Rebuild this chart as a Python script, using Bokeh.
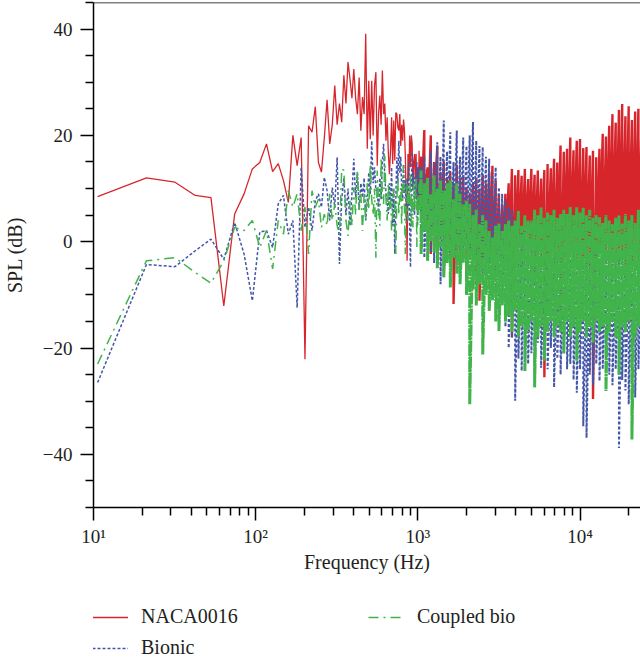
from bokeh.plotting import figure
from bokeh.layouts import column
from bokeh.models import (Range1d, FixedTicker, CustomJSTickFormatter, Legend,
                          LegendItem, Span)
from bokeh.embed import file_html
from bokeh.resources import INLINE

# ---------------------------------------------------------------------------
# Spectrum data
# Low-frequency part: one SPL value per FFT bin (bin width BIN_HZ).
# ---------------------------------------------------------------------------
BIN_HZ = 10.6

naca_low = [
    8.5, 12.0, 11.2, 8.7, 8.3, -12.1, 5.2, 9.0, 13.7, 14.9,
    18.4, 13.2, 14.7, 11.5, 7.4, 20.0, 14.3, 19.6, -22.1, 21.8,
    20.6, 25.4, 14.9, 13.1, 19.5, 26.7, 18.4, 22.0, 29.4, 22.0,
    26.0, 22.5, 31.3, 26.0, 33.8, 30.6, 27.0, 32.5, 27.0, 24.0,
    30.9, 20.9, 27.2, 24.0, 39.1, 17.5, 30.3, 19.3, 30.3, 20.0,
    29.4, 31.9, 14.3, 24.0, 27.5, 22.0, 32.2, 24.0, 26.0, 19.0,
    23.4, 17.0, 12.7, 17.1, 23.4, 14.6, 22.8, 15.3, 24.3, 24.0,
    21.5, 20.9, 24.0, 18.0, 22.0, 19.0, 23.0, 20.9, 16.0, 7.7,
    -3.6, 16.5, 12.0, 20.0, 14.0, 20.0, 18.4, 10.2, 15.0, 16.5,
    12.0, 16.5, 8.0, 14.0, 5.2, 17.1, 8.3,
]

bionic_low = [
    -26.5, -4.3, -4.7, -1.7, 0.5, -3.3, 3.6, -2.3, -11.1, 1.8,
    2.1, -1.1, 7.1, 8.7, 1.4, 4.0, -12.4, 14.0, 2.7, 6.5,
    2.1, 7.7, 9.0, 6.5, 12.1, 9.6, 4.0, 10.2, 6.5, 15.9,
    -4.2, 8.0, 12.0, 5.0, 10.0, 3.0, 9.0, 15.6, 8.3, 13.0,
    6.0, 11.0, 8.3, 12.0, 4.0, 7.7, 13.0, 9.0, 19.0, 11.0,
    14.0, 9.6, 10.2, 5.0, 12.0, 8.0, 15.0, 18.4, 12.0, 9.0,
    7.7, 5.2, 11.0, 6.2, 14.0, 3.0, 10.0, -2.3, 8.0, 15.9,
    11.0, 19.0, 13.0, 16.0, 10.0, 7.7, 14.6, 9.0, 11.5, 4.0,
    12.0, 6.0, 15.0, 2.0, -4.8, 10.0, 16.8, 9.6, 13.0, 5.0,
    12.1, 8.0, 15.0, 3.0, 11.0, 14.0, 6.0,
]

coupled_low = [
    -23.0, -3.6, -3.0, -5.8, -7.8, -3.6, 2.7, 2.1, 4.0, -1.1,
    2.1, -5.1, 4.0, 1.4, 9.6, 6.5, 9.0, 2.1, 6.5, -2.3,
    9.6, 6.5, 8.0, 2.7, 5.2, 3.0, 9.0, 4.0, 7.1, 3.0,
    1.4, 13.7, 13.4, 4.0, 1.1, 7.7, 3.0, 10.2, 5.0, 13.4,
    6.0, 9.0, 2.0, 9.0, 4.0, 11.0, 6.0, 14.6, 8.0, 5.0,
    10.0, -3.0, 13.4, 7.0, 3.0, 15.9, 9.0, 7.1, 16.2, 8.0,
    4.0, 11.0, 6.0, 9.0, 2.0, 5.2, 10.0, 7.0, -2.3, 8.0,
    12.0, 5.0, 9.0, 10.2, 3.0, 12.0, 14.3, 6.0, -2.3, 8.0,
    11.0, 4.0, 10.2, 7.0, 13.0, 3.0, 9.0, 2.7, 11.0, 6.0,
    7.7, 12.0, -1.0, 9.0, 4.0, 10.9, 6.0,
]

# High-frequency part: peak (hi) and trough (lo) SPL around each frequency
band_freq = [
    1047, 1096, 1148, 1202, 1259, 1318, 1380, 1445, 1514, 1585,
    1660, 1738, 1820, 1905, 1995, 2089, 2188, 2291, 2399, 2512,
    2630, 2754, 2884, 3020, 3162, 3311, 3467, 3631, 3802, 3981,
    4169, 4365, 4571, 4786, 5012, 5248, 5495, 5754, 6026, 6310,
    6607, 6918, 7244, 7586, 7943, 8318, 8710, 9120, 9550, 10000,
    10471, 10965, 11482, 12023, 12589, 13183, 13804, 14454, 15136, 15849,
    16596, 17378, 18197, 19055, 19953, 20893, 21878, 22909, 23988,
]

naca_hi = [
    16.0, 21.0, 14.0, 20.0, 15.0, 18.0, 13.0, 15.0, 12.0, 13.0,
    11.0, 14.5, 12.0, 12.5, 10.0, 9.0, 11.0, 12.0, 10.0, 12.5,
    11.0, 13.0, 14.3, 11.5, 9.0, 7.0, 9.0, 11.0, 13.7, 12.5,
    13.5, 12.4, 13.7, 11.8, 13.7, 12.6, 13.4, 11.9, 13.5, 14.6,
    13.8, 15.6, 14.9, 18.1, 16.9, 17.5, 19.6, 17.2, 19.0, 19.3,
    17.6, 17.8, 16.2, 17.1, 15.9, 17.5, 20.3, 19.8, 21.8, 24.0,
    22.4, 24.8, 25.9, 23.6, 25.5, 22.9, 24.5, 25.0, 23.8,
]
naca_lo = [
    5.2, 8.3, 2.7, -2.3, 6.0, -3.0, 0.8, -6.0, -2.0, -4.0,
    -11.7, -3.0, -4.8, -1.0, -7.3, -2.0, -5.0, -8.0, -11.1, -3.0,
    -6.0, -4.2, -4.8, -7.3, -3.0, -5.0, -2.0, -6.0, -18.0, -4.0,
    -1.0, -5.0, 0.0, -3.0, -1.0, -6.0, -2.0, -4.0, -25.5, -5.0,
    -3.0, -7.0, -4.0, -16.0, -3.0, -6.0, -2.0, -5.0, -4.0, -7.0,
    -3.0, -5.0, -6.0, -29.6, -4.0, -2.0, -6.0, -3.0, -5.0, -2.0,
    -6.0, -4.0, -3.0, -7.0, -2.0, -5.0, -4.0, -6.0, -3.0,
]

bionic_hi = [
    14.0, 16.0, 12.0, 17.0, 15.0, 18.7, 16.0, 22.8, 17.0, 20.6,
    15.0, 20.9, 16.0, 19.6, 18.0, 20.0, 22.5, 19.0, 18.0, 17.8,
    16.0, 15.6, 13.0, 14.0, 10.2, 9.0, 8.0, 6.5, 6.0, 4.0,
    3.0, 2.1, 1.0, 0.5, -0.5, 0.0, -1.1, -2.0, -3.0, -1.5,
    -4.0, -2.5, -3.0, -1.8, -4.0, -2.2, -3.5, -2.0, -4.5, -2.8,
    -3.0, -4.0, -2.5, -3.5, -2.0, -4.0, -3.0, -2.4, -3.8, -2.6,
    -4.0, -3.0, -2.2, -3.6, -2.8, -4.0, -3.0, -2.5, -3.5,
]
bionic_lo = [
    -1.0, -3.0, 0.0, -2.0, -4.0, 1.0, -8.0, -3.0, -1.1, -4.0,
    -2.0, -4.8, -1.0, -3.0, -1.1, -2.0, -4.0, -3.0, -4.8, -6.0,
    -5.0, -8.6, -7.0, -9.0, -14.3, -12.0, -16.0, -20.0, -18.0, -29.9,
    -22.0, -24.3, -20.0, -23.0, -21.0, -24.3, -19.0, -23.7, -21.0, -24.0,
    -20.0, -27.4, -22.0, -25.0, -21.0, -24.0, -23.0, -26.0, -28.4, -24.0,
    -34.7, -36.9, -25.0, -27.0, -23.0, -26.2, -24.0, -22.0, -25.0, -27.0,
    -24.0, -38.8, -26.0, -28.0, -30.6, -25.0, -29.3, -24.0, -26.0,
]

coupled_hi = [
    13.4, 11.0, 12.0, 9.0, 12.5, 10.0, 11.5, 9.6, 11.0, 11.5,
    8.0, 11.0, 9.0, 7.0, 7.7, 7.1, 5.0, 6.0, 3.3, 5.0,
    4.0, 2.0, 0.8, 3.0, 3.4, 2.0, 3.3, 4.0, 3.0, 4.0,
    5.8, 3.0, 5.0, 4.0, 4.0, 6.0, 5.0, 6.5, 4.5, 5.5,
    5.0, 6.0, 4.5, 5.2, 6.0, 5.2, 6.5, 5.0, 6.5, 5.5,
    6.5, 5.0, 6.0, 4.5, 5.0, 4.6, 3.5, 5.0, 4.0, 3.3,
    4.5, 5.0, 3.4, 5.2, 4.0, 5.0, 3.5, 6.0, 4.8,
]
coupled_lo = [
    -2.3, 2.0, -3.6, 0.0, -2.0, -5.0, -1.0, -6.7, -4.0, -8.6,
    -3.0, -6.0, -8.0, -4.0, -10.0, -30.6, -9.0, -12.0, -8.0, -21.2,
    -10.0, -13.0, -11.0, -15.0, -16.8, -12.0, -15.0, -14.0, -17.0, -13.0,
    -18.0, -16.0, -24.3, -17.0, -15.0, -27.4, -18.0, -16.0, -22.4, -17.0,
    -15.0, -18.0, -16.0, -17.0, -21.0, -15.0, -18.0, -16.0, -22.4, -17.0,
    -15.0, -18.0, -16.0, -19.0, -15.0, -17.0, -16.0, -28.1, -17.0, -15.0,
    -18.0, -25.0, -16.0, -17.0, -15.0, -37.2, -18.0, -16.0, -17.0,
]

series_names = ["NACA0016", "Bionic", "Coupled bio"]

FONT = "Liberation Serif"
TEXT = "#231f20"
RED = "#d7252c"
BLUE = "#4356a8"
GREEN = "#40b44a"

line_styles = [
    dict(line_color=RED),
    dict(line_color=BLUE, line_dash="3 2"),
    dict(line_color=GREEN, line_dash="10 5 2 5"),
]
low_widths = [1.3, 1.5, 1.5]
# the packed high-frequency traces are stroked heavier so they read as dense
band_styles = [
    dict(line_color=RED, line_width=2.4),
    dict(line_color=BLUE, line_width=2.0, line_dash="3 2"),
    dict(line_color=GREEN, line_width=3.0, line_dash="12 1 2 1"),
]


def low_trace(low):
    """One point per FFT bin."""
    return [BIN_HZ * (i + 1) for i in range(len(low))], list(low)


def band_trace(low, hi, lo):
    """Peak/trough pairs of the dense part, joined to the last bin value."""
    freq = [BIN_HZ * len(low)]
    spl = [low[-1]]
    for f, h, l in zip(band_freq, hi, lo):
        freq += [f, f]
        spl += [h, l]
    return freq, spl


# ---------------------------------------------------------------- spectrum
p = figure(width=640, height=577, x_axis_type="log",
           x_range=Range1d(10, 23600), y_range=Range1d(-50, 45),
           output_backend="svg", toolbar_location=None,
           min_border_left=92, min_border_right=0,
           min_border_top=2, min_border_bottom=70)
p.outline_line_color = None
p.grid.visible = False
p.background_fill_color = "white"
p.border_fill_color = "white"

series = [(naca_low, naca_hi, naca_lo),
          (bionic_low, bionic_hi, bionic_lo),
          (coupled_low, coupled_hi, coupled_lo)]
for (low, hi, lo), kw, w_low, band_kw in zip(series, line_styles,
                                             low_widths, band_styles):
    fx, sy = low_trace(low)
    p.line(fx, sy, line_width=w_low, **kw)
    fx, sy = band_trace(low, hi, lo)
    p.line(fx, sy, **band_kw)

# top edge of the frame
p.add_layout(Span(location=45, dimension="width", line_color="black",
                  line_width=1.5))

decades = [10, 100, 1000, 10000]
p.xaxis.ticker = FixedTicker(
    ticks=decades,
    minor_ticks=[m * d for d in decades for m in range(2, 10)])
p.xaxis.formatter = CustomJSTickFormatter(code="""
    const sup = {1: "\u00b9", 2: "\u00b2", 3: "\u00b3", 4: "\u2074"};
    const e = Math.round(Math.log10(tick));
    return "10" + sup[e];
""")
p.yaxis.ticker = FixedTicker(
    ticks=[-40, -20, 0, 20, 40],
    minor_ticks=[-50, -45, -35, -30, -25, -15, -10, -5, 5, 10, 15, 25, 30, 35, 45])
p.yaxis.formatter = CustomJSTickFormatter(
    code='return tick < 0 ? "\u2212" + (-tick) : "" + tick;')

p.xaxis.axis_label = "Frequency (Hz)"
p.yaxis.axis_label = "SPL (dB)"

for ax in (p.xaxis[0], p.yaxis[0]):
    ax.axis_line_color = "black"
    ax.axis_line_width = 1.5
    ax.major_tick_line_color = "black"
    ax.minor_tick_line_color = "black"
    ax.major_tick_line_width = 1.5
    ax.minor_tick_line_width = 1.5
    ax.major_tick_in = 0
    ax.major_tick_out = 13
    ax.minor_tick_in = 0
    ax.minor_tick_out = 8
    ax.major_label_text_font = FONT
    ax.major_label_text_font_size = "19px"
    ax.major_label_text_color = TEXT
    ax.axis_label_text_font = FONT
    ax.axis_label_text_font_size = "20px"
    ax.axis_label_text_font_style = "normal"
    ax.axis_label_text_color = TEXT

p.yaxis.major_label_standoff = 8
p.yaxis.axis_label_standoff = 14
p.xaxis.major_label_standoff = 5
p.xaxis.axis_label_standoff = 1

# ------------------------------------------------------------------ legend
# the legend strip's frame lines up with the spectrum frame above it
lg = figure(width=640, height=85, x_range=Range1d(0, 1), y_range=Range1d(0, 1),
            x_axis_location=None, y_axis_location=None,
            output_backend="svg", toolbar_location=None,
            min_border_left=0, min_border_right=0,
            min_border_top=0, min_border_bottom=0)
lg.grid.visible = False
lg.outline_line_color = None
lg.background_fill_color = "white"
lg.border_fill_color = "white"

# key renderers sit outside the visible range; only their legend swatches show
keys = [lg.line([-2, -1], [-2, -1], line_width=w, **kw)
        for kw, w in zip(line_styles, low_widths)]

legend_left = Legend(
    items=[LegendItem(label=series_names[0], renderers=[keys[0]]),
           LegendItem(label=series_names[1], renderers=[keys[1]])],
    location=(-1, 3))
legend_right = Legend(
    items=[LegendItem(label=series_names[2], renderers=[keys[2]])],
    location=(275, 34))
for leg in (legend_left, legend_right):
    leg.glyph_width = 36
    leg.glyph_height = 20
    leg.label_height = 20
    leg.label_standoff = 13
    leg.spacing = 8
    leg.padding = 0
    leg.margin = 0
    leg.border_line_color = None
    leg.background_fill_alpha = 0
    leg.label_text_font = FONT
    leg.label_text_font_size = "20px"
    leg.label_text_color = TEXT
    lg.add_layout(leg)

open("out.html", "w").write(file_html(column(p, lg), INLINE))
